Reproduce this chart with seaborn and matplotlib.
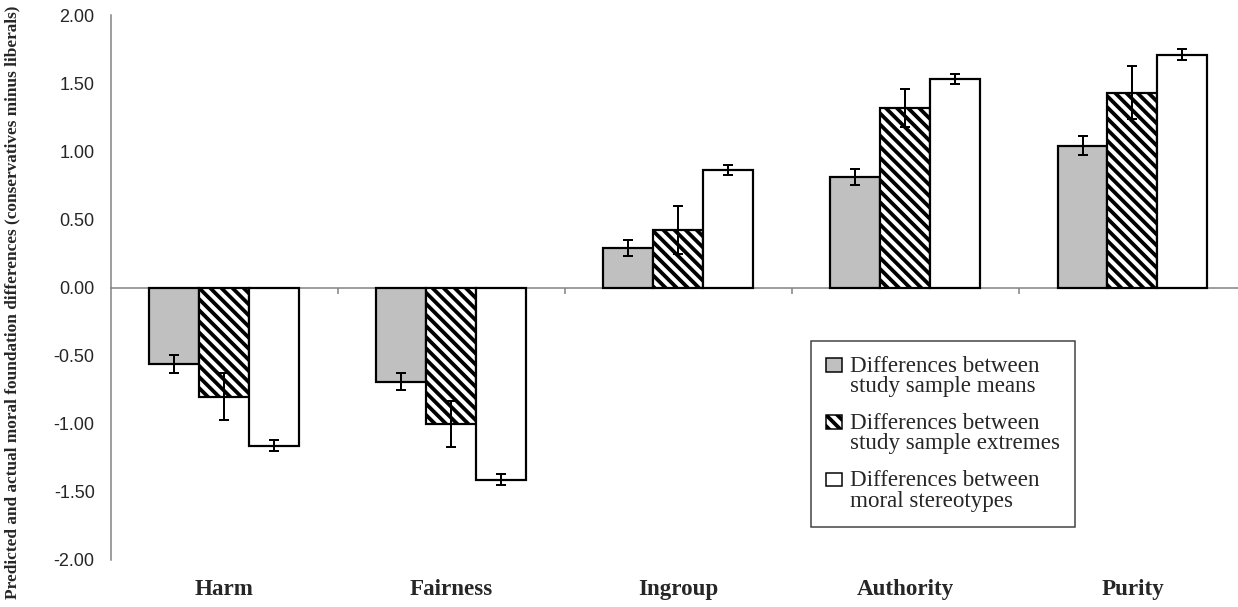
import numpy as np
import pandas as pd
import seaborn as sns
import matplotlib.pyplot as plt
import matplotlib.patches as mpatches
from matplotlib.legend_handler import HandlerPatch

# data
foundations = ['Harm', 'Fairness', 'Ingroup', 'Authority', 'Purity']
series = ['Differences between\nstudy sample means',
          'Differences between\nstudy sample extremes',
          'Differences between\nmoral stereotypes']
sample_means = [-0.56, -0.69, 0.29, 0.81, 1.04]
sample_means_err = [0.066, 0.062, 0.062, 0.059, 0.071]
sample_extremes = [-0.80, -1.00, 0.42, 1.32, 1.43]
sample_extremes_err = [0.17, 0.17, 0.176, 0.14, 0.193]
stereotypes = [-1.16, -1.41, 0.86, 1.53, 1.71]
stereotypes_err = [0.04, 0.039, 0.037, 0.037, 0.04]
y_ticks = [-2.0, -1.5, -1.0, -0.5, 0.0, 0.5, 1.0, 1.5, 2.0]

DPI = 100
W, H = 1238, 607
HATCH = '\\\\\\'  # three strokes -> ~11 px stripe pitch at 100 dpi


def pt(px):
    return px * 72 / DPI


sns.set_style('white')
plt.rcParams['font.family'] = ['Liberation Serif', 'DejaVu Serif']
plt.rcParams['hatch.linewidth'] = pt(3.8)

df = pd.DataFrame({
    'foundation': np.tile(foundations, 3),
    'source': np.repeat(series, len(foundations)),
    'diff': sample_means + sample_extremes + stereotypes,
    'err': sample_means_err + sample_extremes_err + stereotypes_err,
})

fig = plt.figure(figsize=(W / DPI, H / DPI), dpi=DPI)
ax = fig.add_axes([110.7 / W, 47 / H, (1246 - 110.7) / W, 545 / H])

fills = ['#c0c0c0', 'white', 'white']
sns.barplot(data=df, x='foundation', y='diff', hue='source', order=foundations,
            hue_order=series, palette=fills, saturation=1, width=0.66,
            edgecolor='black', linewidth=pt(2.2), errorbar=None, legend=False, ax=ax)

for bar in ax.containers[1]:
    bar.set_hatch(HATCH)

# error bars at the bar centres seaborn laid out
for cont, name in zip(ax.containers, series):
    sub = df[df['source'] == name]
    xs = [b.get_x() + b.get_width() / 2 for b in cont]
    ax.errorbar(xs, sub['diff'], yerr=sub['err'], fmt='none', ecolor='black',
                elinewidth=pt(2), capsize=pt(5), capthick=pt(2), zorder=5)

ax.set_ylim(-2, 2)
ax.set_yticks(y_ticks)
ax.set_yticklabels([f'{v:.2f}' for v in y_ticks], family='Liberation Sans', fontsize=pt(18))
ax.set_xlim(-0.5, 4.5)
ax.set_xticks(range(len(foundations)))
ax.set_xticklabels(foundations, fontweight='bold', fontsize=pt(23))
ax.tick_params(axis='x', length=0, pad=pt(19))
ax.tick_params(axis='y', length=pt(7), width=pt(1.5), color='#808080', pad=pt(9))
ax.set_xlabel('')
ax.set_ylabel('')
for s in ['top', 'right', 'bottom']:
    ax.spines[s].set_visible(False)
ax.spines['left'].set_color('#808080')
ax.spines['left'].set_linewidth(pt(1.5))

# zero line with the category separator ticks
zero = ax.secondary_xaxis(0.5)
zero.set_alignment('bottom')
zero.set_xticks([0.5, 1.5, 2.5, 3.5])
zero.set_xticklabels([])
zero.tick_params(length=pt(6), width=pt(1.5), color='#808080', direction='out')
zero.spines['bottom'].set_color('#808080')
zero.spines['bottom'].set_linewidth(pt(1.5))

fig.text(12 / W, 1 - 302 / H,
         'Predicted and actual moral foundation differences (conservatives minus liberals)',
         rotation=90, ha='center', va='center', fontweight='bold', fontsize=pt(17.3))


def top_square(legend, orig_handle, xdescent, ydescent, width, height, fontsize):
    return mpatches.Rectangle((-xdescent, -ydescent + 0.5 * fontsize), width, height)


handles = [mpatches.Patch(facecolor=fills[0], edgecolor='black', linewidth=pt(1.5)),
           mpatches.Patch(facecolor='white', edgecolor='black', hatch=HATCH, linewidth=pt(1.5)),
           mpatches.Patch(facecolor='white', edgecolor='black', linewidth=pt(1.5))]
fs = 23
leg = fig.legend(handles, series, loc='upper left', bbox_to_anchor=(811 / W, 1 - 341 / H),
                 prop={'family': 'Liberation Serif', 'size': pt(fs)},
                 handlelength=16 / fs, handleheight=12 / fs, handletextpad=8 / fs,
                 labelspacing=16 / fs, borderpad=0.65, borderaxespad=0,
                 fancybox=False, framealpha=1, edgecolor='#404040',
                 handler_map={mpatches.Patch: HandlerPatch(patch_func=top_square)})
leg.get_frame().set_linewidth(pt(1.5))
for t in leg.get_texts():
    t.set_linespacing(0.95)

fig.savefig('out.png', dpi=DPI)
